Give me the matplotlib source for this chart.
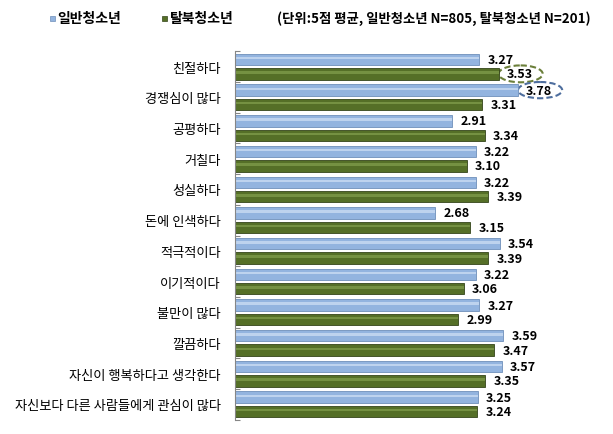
import numpy as np
import matplotlib
matplotlib.use("Agg")
import matplotlib.pyplot as plt
from matplotlib.patches import Ellipse, Rectangle

plt.rcParams["font.family"] = ["Noto Sans CJK KR", "DejaVu Sans"]

# ------------------------------------------------------------
# data (5-point mean)
# ------------------------------------------------------------
categories = [
    "친절하다", "경쟁심이 많다", "공평하다", "거칠다", "성실하다",
    "돈에 인색하다", "적극적이다", "이기적이다", "불만이 많다",
    "깔끔하다", "자신이 행복하다고 생각한다", "자신보다 다른 사람들에게 관심이 많다",
]
general = [3.27, 3.78, 2.91, 3.22, 3.22, 2.68, 3.54, 3.22, 3.27, 3.59, 3.57, 3.25]
defector = [3.53, 3.31, 3.34, 3.10, 3.39, 3.15, 3.39, 3.06, 2.99, 3.47, 3.35, 3.24]
series_names = ["일반청소년", "탈북청소년"]
note = "(단위:5점 평균, 일반청소년 N=805, 탈북청소년 N=201)"

BLUE, BLUE_HI, BLUE_EDGE = "#93B4DF", "#C9DCF3", "#6F8FBA"
GREEN, GREEN_HI, GREEN_EDGE = "#556F27", "#7E9A4A", "#34451A"

fig = plt.figure(figsize=(6.13, 4.35), dpi=100)
ax = fig.add_axes([234.5 / 613, 1 - 420.7 / 435, 366 / 613, 368.4 / 435])

y = np.arange(len(categories)) + 0.5
h = 0.37
off = 0.235

for vals, sign, col, hi, ec in [(general, -1, BLUE, BLUE_HI, BLUE_EDGE),
                                (defector, 1, GREEN, GREEN_HI, GREEN_EDGE)]:
    yy = y + sign * off
    ax.barh(yy, vals, height=h, color=col, edgecolor=ec, linewidth=0.6, zorder=2)
    # bevel highlight
    ax.barh(yy - h * 0.12, vals, height=h * 0.22, color=hi, linewidth=0, alpha=0.8, zorder=2)
    for v, yv in zip(vals, yy):
        ax.text(v + 0.11, yv, f"{v:.2f}", va="center", ha="left",
                fontsize=9, fontweight="bold", color="black")

# dashed ellipses highlighting the top values
ax.add_patch(Ellipse((defector[0] + 0.29, y[0] + off), 0.59, 0.55, fill=False,
                     ls=(0, (3, 1.5)), lw=1.5, ec="#6B7F3A", clip_on=False))
ax.add_patch(Ellipse((general[1] + 0.30, y[1] - off), 0.59, 0.53, fill=False,
                     ls=(0, (3, 1.5)), lw=1.5, ec="#4E6E9E", clip_on=False))

ax.set_xlim(0, 366 / 74.9)
ax.set_ylim(len(categories), 0)
ax.set_xticks([])
ax.set_yticks(np.arange(len(categories) + 1))
ax.set_yticklabels([])
ax.set_yticks(y, minor=True)
ax.set_yticklabels(categories, minor=True, fontsize=9.5)
ax.tick_params(axis="y", which="major", direction="in", length=3.5, color="#868686", width=0.8)
ax.tick_params(axis="y", which="minor", length=0, pad=10)
for s in ["top", "right", "bottom"]:
    ax.spines[s].set_visible(False)
ax.spines["left"].set_color("#868686")
ax.spines["left"].set_linewidth(0.8)

# legend row
ly = 1 - 19 / 435
fig.add_artist(Rectangle((50 / 613, ly - 2.5 / 435), 5 / 613, 5 / 435,
                         transform=fig.transFigure, fc=BLUE, ec=BLUE_EDGE, lw=0.5))
fig.text(57 / 613, ly, series_names[0], va="center", ha="left", fontsize=10, fontweight="bold")
fig.text(170 / 613, ly, series_names[1], va="center", ha="left", fontsize=10, fontweight="bold")
fig.add_artist(Rectangle((162 / 613, ly - 2.5 / 435), 5 / 613, 5 / 435,
                         transform=fig.transFigure, fc=GREEN, ec=GREEN_EDGE, lw=0.5))
fig.text(277 / 613, ly, note, va="center", ha="left", fontsize=9.6, fontweight="bold")

fig.savefig("out.png", dpi=100)
